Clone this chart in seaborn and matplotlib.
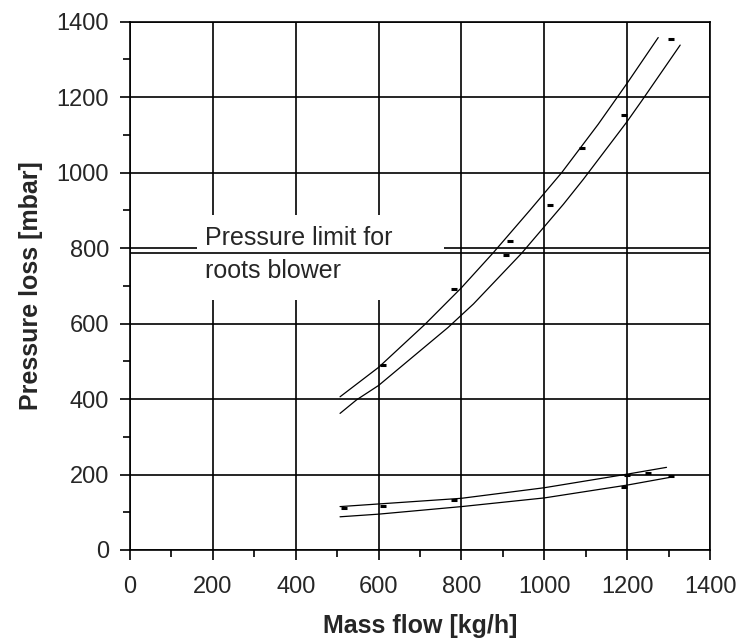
import matplotlib
matplotlib.use("Agg")
import matplotlib.pyplot as plt
import seaborn as sns
import pandas as pd
from matplotlib.patches import Rectangle
from matplotlib.ticker import MultipleLocator

# ---- data ----
high_upper_x = [507, 600, 712, 800, 877, 965, 1042, 1130, 1200, 1275]
high_upper_y = [406, 484, 598, 695, 788, 900, 1000, 1128, 1237, 1358]
high_lower_x = [507, 547, 600, 768, 829, 945, 1046, 1094, 1199, 1235, 1328]
high_lower_y = [362, 398, 436, 590, 652, 786, 916, 982, 1134, 1190, 1338]

low_upper_x = [507, 600, 800, 1000, 1200, 1295]
low_upper_y = [115, 122, 137, 165, 201, 219]
low_lower_x = [507, 600, 800, 1000, 1200, 1311]
low_lower_y = [88, 95, 115, 138, 172, 194]

meas_high_x = [611, 782, 908, 917, 1014, 1090, 1193, 1305]
meas_high_y = [490, 691, 782, 819, 914, 1064, 1153, 1354]
meas_low_x = [516, 611, 783, 1192, 1199, 1251, 1306]
meas_low_y = [112, 117, 133, 168, 199, 203, 196]

pressure_limit = 786
x_ticks = [0, 200, 400, 600, 800, 1000, 1200, 1400]
y_ticks = [0, 200, 400, 600, 800, 1000, 1200, 1400]
x_label = "Mass flow [kg/h]"
y_label = "Pressure loss [mbar]"
note_line1 = "Pressure limit for"
note_line2 = "roots blower"

sns.set_style("white")
plt.rcParams["font.family"] = ["Liberation Sans", "DejaVu Sans"]

fig = plt.figure(figsize=(7.39, 6.39), dpi=100)
ax = fig.add_axes([130 / 739, 89 / 639, 580 / 739, 528.3 / 639])

curves = [
    (high_upper_x, high_upper_y),
    (high_lower_x, high_lower_y),
    (low_upper_x, low_upper_y),
    (low_lower_x, low_lower_y),
]
for cx, cy in curves:
    df = pd.DataFrame({"x": cx, "y": cy})
    sns.lineplot(data=df, x="x", y="y", ax=ax, color="black", linewidth=0.9,
                 sort=False, estimator=None, zorder=4)

for mx, my in [(meas_high_x, meas_high_y), (meas_low_x, meas_low_y)]:
    dfm = pd.DataFrame({"x": mx, "y": my})
    sns.scatterplot(data=dfm, x="x", y="y", ax=ax, marker="_", s=22,
                    color="black", linewidth=2.2, zorder=5)

# white area behind the annotation (covers grid lines)
ax.add_patch(Rectangle((162, 662), 596, 226, facecolor="white",
                       edgecolor="none", zorder=1))
ax.axhline(pressure_limit, color="black", linewidth=1.2, zorder=3)
ax.text(181, 808, note_line1, fontsize=18, va="baseline", ha="left", zorder=6)
ax.text(181, 721, note_line2, fontsize=18, va="baseline", ha="left", zorder=6)

ax.set_xlim(0, 1400)
ax.set_ylim(0, 1400)
ax.set_xticks(x_ticks)
ax.set_yticks(y_ticks)
ax.xaxis.set_minor_locator(MultipleLocator(100))
ax.yaxis.set_minor_locator(MultipleLocator(100))
ax.set_axisbelow(True)
ax.grid(True, which="major", color="black", linewidth=1.2)
for s in ax.spines.values():
    s.set_color("black")
    s.set_linewidth(1.2)
ax.tick_params(axis="both", which="major", direction="out", length=7,
               width=1.2, color="black", labelsize=17, left=True, bottom=True)
ax.tick_params(axis="y", which="major", pad=8)
ax.tick_params(axis="x", which="major", pad=12)
ax.tick_params(axis="both", which="minor", direction="out", length=5,
               width=1.2, color="black", left=True, bottom=True)

ax.set_xlabel(x_label, fontsize=18, fontweight="bold")
ax.set_ylabel(y_label, fontsize=18, fontweight="bold")
ax.xaxis.set_label_coords(0.5, -0.122)
ax.yaxis.set_label_coords(-0.15, 0.5)

fig.savefig("out.png", dpi=100, facecolor="white")
